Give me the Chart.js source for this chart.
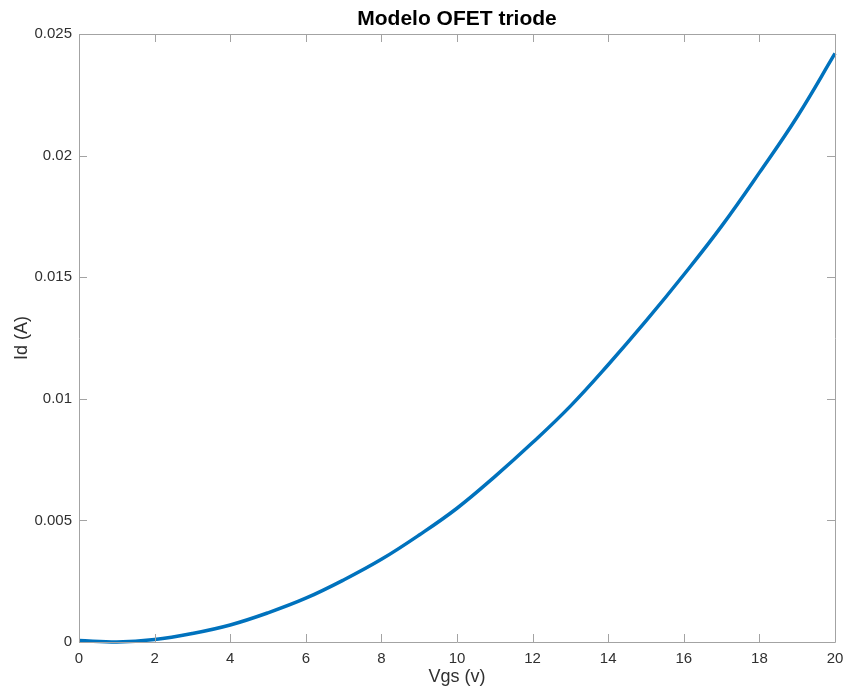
<!DOCTYPE html>
<html>
<head>
<meta charset="utf-8">
<script src="https://cdn.jsdelivr.net/npm/chart.js@4"></script>
<style>
  html, body { margin: 0; padding: 0; background: #ffffff; }
  #wrap { width: 847px; height: 691px; }
</style>
</head>
<body>
<div id="wrap"><canvas id="c" width="847" height="691"></canvas></div>
<script>
// Gate voltage samples (V)
const vgs = [0, 1, 2, 3, 4, 5, 6, 7, 8, 9, 10, 11, 12, 13, 14, 15, 16, 17, 18, 19, 20];
// Drain current (A)
const idValues = [0.00006, 0.0, 0.0001, 0.00035, 0.0007, 0.0012, 0.0018, 0.00255, 0.0034, 0.0044,
                  0.0055, 0.0068, 0.0082, 0.0097, 0.0114, 0.0132, 0.0151, 0.0171, 0.0193, 0.0216, 0.0242];

const titleText = 'Modelo OFET triode';
const xTitle = 'Vgs (v)';
const yTitle = 'Id (A)';

const FONT = '"Liberation Sans", Arial, Helvetica, sans-serif';
const AXIS_GRAY = '#a3a3a3';
const TEXT_DARK = '#303030';

// Box frame, inward ticks on all four sides, and titles
const framePlugin = {
  id: 'frame',
  afterDraw(chart) {
    const { ctx, chartArea: a, scales } = chart;
    const tl = 8;
    ctx.save();
    ctx.strokeStyle = AXIS_GRAY;
    ctx.lineWidth = 1;
    ctx.beginPath();
    ctx.rect(Math.round(a.left) + 0.5, Math.round(a.top) + 0.5,
             Math.round(a.right - a.left), Math.round(a.bottom - a.top));
    ctx.stroke();
    ctx.beginPath();
    scales.x.ticks.forEach(t => {
      const px = Math.round(scales.x.getPixelForValue(t.value)) + 0.5;
      ctx.moveTo(px, a.bottom); ctx.lineTo(px, a.bottom - tl);
      ctx.moveTo(px, a.top); ctx.lineTo(px, a.top + tl);
    });
    scales.y.ticks.forEach(t => {
      const py = Math.round(scales.y.getPixelForValue(t.value)) + 0.5;
      ctx.moveTo(a.left, py); ctx.lineTo(a.left + tl, py);
      ctx.moveTo(a.right, py); ctx.lineTo(a.right - tl, py);
    });
    ctx.stroke();

    ctx.fillStyle = '#000000';
    ctx.font = 'bold 21px ' + FONT;
    ctx.textAlign = 'center';
    ctx.textBaseline = 'middle';
    ctx.fillText(titleText, (a.left + a.right) / 2, 19);

    ctx.fillStyle = TEXT_DARK;
    ctx.font = '18px ' + FONT;
    ctx.fillText(xTitle, (a.left + a.right) / 2, 677);

    ctx.translate(22, (a.top + a.bottom) / 2);
    ctx.rotate(-Math.PI / 2);
    ctx.fillText(yTitle, 0, 0);
    ctx.restore();
  }
};

new Chart(document.getElementById('c'), {
  type: 'scatter',
  data: {
    datasets: [{
      data: vgs.map((v, i) => ({ x: v, y: idValues[i] })),
      showLine: true,
      borderColor: '#0072BD',
      backgroundColor: '#0072BD',
      borderWidth: 3.5,
      pointRadius: 0,
      tension: 0.4,
      clip: false
    }]
  },
  options: {
    responsive: false,
    animation: false,
    layout: { padding: { left: 0, right: 12, top: 34, bottom: 0 } },
    plugins: { legend: { display: false }, tooltip: { enabled: false }, title: { display: false } },
    scales: {
      x: {
        type: 'linear',
        min: 0, max: 20,
        grid: { display: false, drawTicks: false },
        border: { display: false },
        afterFit: s => { s.height = 49; s.paddingLeft = 0; s.paddingRight = 0; },
        ticks: {
          stepSize: 2,
          padding: 8,
          color: TEXT_DARK,
          font: { family: FONT, size: 15 },
          maxRotation: 0
        }
      },
      y: {
        type: 'linear',
        min: 0, max: 0.025,
        grid: { display: false, drawTicks: false },
        border: { display: false },
        afterFit: s => { s.width = 79; s.paddingTop = 0; s.paddingBottom = 0; },
        ticks: {
          stepSize: 0.005,
          padding: 7,
          color: TEXT_DARK,
          font: { family: FONT, size: 15 },
          callback: v => String(Number(v.toFixed(3)))
        }
      }
    }
  },
  plugins: [framePlugin]
});
</script>
</body>
</html>
